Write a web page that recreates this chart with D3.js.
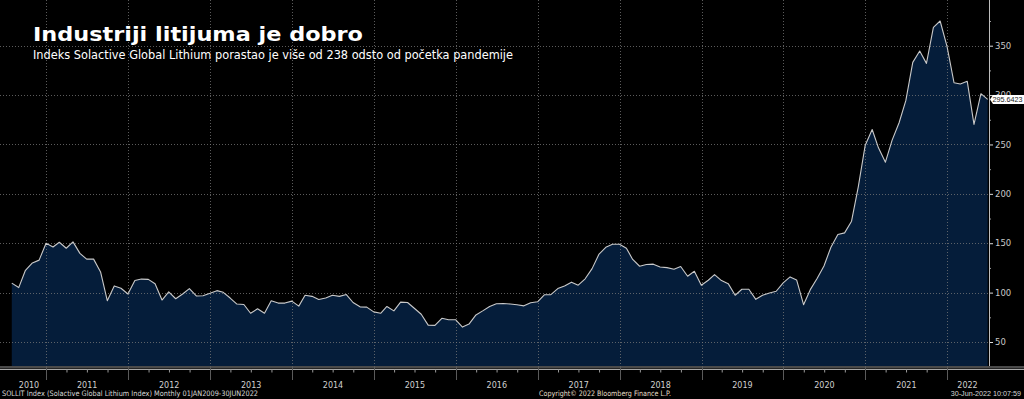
<!DOCTYPE html>
<html>
<head>
<meta charset="utf-8">
<script src="https://cdn.jsdelivr.net/npm/d3@7"></script>
<style>
  html, body { margin: 0; padding: 0; background: #000; }
  svg { display: block; }
</style>
</head>
<body>
<svg id="chart" width="1024" height="399"></svg>
<script>
// ---------- DATA ----------
const title = "Industriji litijuma je dobro";
const subtitle = "Indeks Solactive Global Lithium porastao je više od 238 odsto od početka pandemije";
const footerLeft = "SOLLIT Index (Solactive Global Lithium Index)  Monthly 01JAN2009-30JUN2022";
const footerMid = "Copyright\u00A9 2022 Bloomberg Finance L.P.";
const footerRight = "30-Jun-2022 10:07:59";
const lastLabel = "295.6423";

const firstMonth = [2010, 6];   // July 2010 (month-end observations)
const indexValues = [
  109.6,105.1,122.6,130.1,132.9,150.0,                               // Jul-Dec 2010
  146.2,151.0,144.9,151.4,139.7,133.9,133.9,120.9,91.8,106.8,104.4,98.6, // 2011
  112.3,113.7,113.4,108.9,92.5,100.7,93.8,98.6,104.1,96.6,96.9,99.3,    // 2012
  102.0,100.3,94.5,88.4,88.0,79.1,83.6,79.1,91.8,89.4,89.4,91.4,        // 2013
  86.3,97.3,96.2,93.1,94.5,97.3,96.2,98.0,90.0,85.6,85.3,80.5,          // 2014
  79.1,86.0,81.5,90.4,90.0,84.2,78.1,67.1,66.8,74.0,72.6,72.6,          // 2015
  65.1,68.1,77.4,81.5,86.0,88.7,89.0,88.4,87.7,86.6,89.7,90.7,          // 2016
  97.9,97.9,104.1,106.8,110.6,107.5,114.0,124.3,138.7,145.9,149.0,149.0,// 2017
  144.9,133.6,126.7,128.4,128.8,126.0,125.3,123.7,126.4,116.6,121.6,107.4, // 2018
  112.5,118.2,112.2,109.1,97.3,103.4,103.4,93.2,97.3,99.7,101.4,109.8,  // 2019
  115.9,112.8,87.8,103.0,114.5,127.0,146.0,158.8,160.5,172.3,207.1,249.3, // 2020
  265.2,246.6,232.1,254.4,272.0,294.3,333.1,344.6,332.1,368.6,375.0,349.0, // 2021
  312.5,311.2,313.9,270.3,301.4,295.6423                              // Jan-Jun 2022
];
const yTickValues = [50, 100, 150, 200, 250, 300, 350];
const yMinorTickValues = [75, 125, 175, 225, 275, 325, 375];
const yearLabels = [2010,2011,2012,2013,2014,2015,2016,2017,2018,2019,2020,2021,2022];

// ---------- BUILD ----------
// month-end dates
const dates = indexValues.map((v, i) => new Date(firstMonth[0], firstMonth[1] + i + 1, 0));
const data = indexValues.map((v, i) => ({ date: dates[i], value: v }));

const svg = d3.select("#chart");
const W = 1024, H = 399;
const axisX = 989;
const plotBottom = 366;

const x = d3.scaleTime()
  .domain([new Date(2011, 0, 1), new Date(2022, 0, 1)])
  .range([46.3, 947.3]);
const y = d3.scaleLinear()
  .domain([50, 350])
  .range([342, 45.7]);

svg.append("rect").attr("width", W).attr("height", H).attr("fill", "#000");

// area
const area = d3.area()
  .x(d => x(d.date))
  .y0(plotBottom)
  .y1(d => y(d.value));
svg.append("path").datum(data)
  .attr("d", area)
  .attr("fill", "#051d3a");

// gridlines
const grid = svg.append("g");
grid.selectAll("line.h").data(yTickValues).join("line")
  .attr("x1", 0).attr("x2", axisX)
  .attr("y1", d => Math.round(y(d)) + 0.5).attr("y2", d => Math.round(y(d)) + 0.5)
  .attr("stroke", "#7a7a7a").attr("stroke-opacity", 0.75)
  .attr("stroke-dasharray", "1,2");
const yearStarts = d3.range(2011, 2023).map(yr => new Date(yr, 0, 1));
grid.selectAll("line.v").data(yearStarts).join("line")
  .attr("x1", d => Math.round(x(d)) + 0.5).attr("x2", d => Math.round(x(d)) + 0.5)
  .attr("y1", 0).attr("y2", plotBottom)
  .attr("stroke", "#7a7a7a").attr("stroke-opacity", 0.75)
  .attr("stroke-dasharray", "1,2");

// line
const line = d3.line().x(d => x(d.date)).y(d => y(d.value));
svg.append("path").datum(data)
  .attr("d", line)
  .attr("fill", "none")
  .attr("stroke", "#c9c9c9")
  .attr("stroke-width", 1.1)
  .attr("stroke-linejoin", "round");

// right axis
const yAxis = d3.axisRight(y).tickValues(yTickValues).tickSize(4).tickPadding(2);
const ya = svg.append("g").attr("transform", `translate(${axisX},0)`).call(yAxis);
ya.select(".domain").remove();
ya.selectAll(".tick line").attr("stroke", "#dcdcdc");
ya.selectAll(".tick text").attr("fill", "#c8c8c8")
  .style("font-family", "DejaVu Sans, sans-serif").style("font-size", "8.5px");
const yMinor = d3.axisRight(y).tickValues(yMinorTickValues).tickSize(2).tickFormat("");
const ym = svg.append("g").attr("transform", `translate(${axisX},0)`).call(yMinor);
ym.select(".domain").remove();
ym.selectAll(".tick line").attr("stroke", "#999");
svg.append("line").attr("x1", axisX + 0.5).attr("x2", axisX + 0.5)
  .attr("y1", 0).attr("y2", plotBottom)
  .attr("stroke", "#bdbdbd").attr("stroke-width", 1);

// bottom axis band
svg.append("rect").attr("x", 0).attr("y", plotBottom).attr("width", W).attr("height", 2.5)
  .attr("fill", "#4a4a4a");
svg.append("line").attr("x1", 0).attr("x2", W).attr("y1", 369.5).attr("y2", 369.5)
  .attr("stroke", "#a8a8a8");

// quarterly ticks
const xAxis = d3.axisBottom(x)
  .ticks(d3.timeMonth.filter(d => d.getMonth() % 3 === 0 && d.getMonth() !== 0))
  .tickSize(3).tickFormat("");
const xa = svg.append("g").attr("transform", "translate(0,369.5)").call(xAxis);
xa.select(".domain").remove();
xa.selectAll(".tick line").attr("stroke", "#9a9a9a");

// year separators
svg.append("g").selectAll("line").data(yearStarts).join("line")
  .attr("x1", d => Math.round(x(d)) + 0.5).attr("x2", d => Math.round(x(d)) + 0.5)
  .attr("y1", plotBottom).attr("y2", 380)
  .attr("stroke", "#5a5a5a");

// year labels
const xFirst = x(dates[0]), xLast = x(dates[dates.length - 1]);
svg.append("g").selectAll("text").data(yearLabels).join("text")
  .attr("x", yr => {
    const a = Math.max(x(new Date(yr, 0, 1)), xFirst);
    const b = Math.min(x(new Date(yr + 1, 0, 1)), xLast);
    return (a + b) / 2;
  })
  .attr("y", 387.5)
  .attr("text-anchor", "middle")
  .attr("fill", "#d0d0d0")
  .style("font-family", "DejaVu Sans, sans-serif")
  .style("font-size", "8px")
  .text(d => d);

// footer
const ff = "DejaVu Sans, sans-serif";
svg.append("text").attr("x", 2).attr("y", 396).attr("fill", "#d8d8d8")
  .attr("textLength", 256).attr("lengthAdjust", "spacingAndGlyphs")
  .style("font-family", ff).style("font-size", "7.5px").text(footerLeft);
svg.append("text").attr("x", 539).attr("y", 396).attr("fill", "#e6dfc8")
  .attr("textLength", 132).attr("lengthAdjust", "spacingAndGlyphs")
  .style("font-family", ff).style("font-size", "7.5px").text(footerMid);
svg.append("text").attr("x", 1021).attr("y", 396).attr("fill", "#d8d8d8")
  .attr("text-anchor", "end")
  .style("font-family", "Liberation Sans, Arial, sans-serif").style("font-size", "7.2px").text(footerRight);

// last value label
const lv = indexValues[indexValues.length - 1];
const ly = y(lv);
svg.append("path")
  .attr("d", `M${axisX + 1},${ly} L${axisX + 4},${ly - 4.5} L${W},${ly - 4.5} L${W},${ly + 4.5} L${axisX + 4},${ly + 4.5} Z`)
  .attr("fill", "#ffffff");
svg.append("text").attr("x", 1022.5).attr("y", ly + 2.8)
  .attr("text-anchor", "end")
  .attr("fill", "#1a1a1a")
  .style("font-family", "Liberation Sans, Arial, sans-serif").style("font-size", "7.2px").text(lastLabel);

// title
svg.append("text").attr("x", 33).attr("y", 41)
  .attr("fill", "#ffffff")
  .attr("textLength", 330).attr("lengthAdjust", "spacingAndGlyphs")
  .style("font-family", ff).style("font-weight", "bold").style("font-size", "20px")
  .text(title);
svg.append("text").attr("x", 33).attr("y", 59)
  .attr("fill", "#ffffff")
  .attr("textLength", 480).attr("lengthAdjust", "spacingAndGlyphs")
  .style("font-family", ff).style("font-size", "12px")
  .text(subtitle);
</script>
</body>
</html>
